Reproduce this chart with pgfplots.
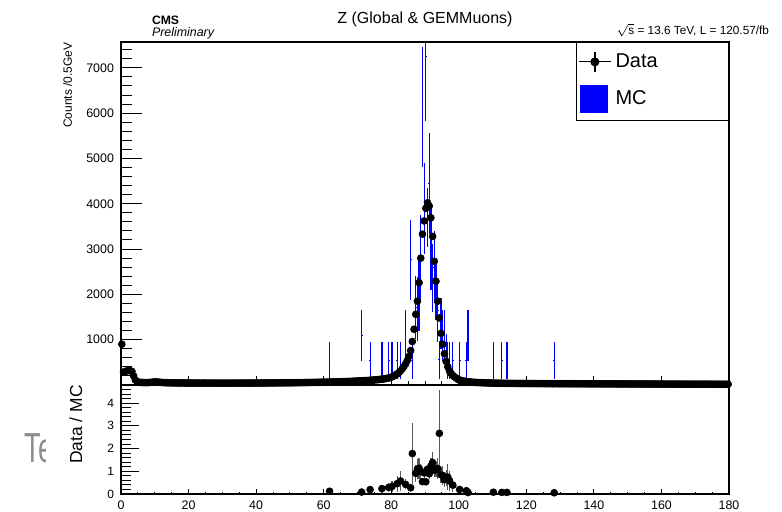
\documentclass[border=0pt]{standalone}
\usepackage{pgfplots}
\usepackage{pgfplotstable}
\pgfplotsset{compat=1.18}
\usepackage{fontspec}
\setmainfont{Liberation Sans}
\newcommand\fs[1]{\fontsize{#1}{#1}\selectfont}

\pgfplotstableread[row sep=\\]{
x y\\
0.25 900\\ 0.75 280\\ 1.25 300\\ 1.75 310\\ 2.25 320\\ 2.75 315\\ 3.25 300\\ 3.75 200\\ 4.25 110\\ 4.75 75\\
5.25 62\\ 5.75 58\\ 6.25 55\\ 6.75 54\\ 7.25 52\\ 7.75 53\\ 8.25 55\\ 8.75 58\\ 9.25 62\\ 9.75 66\\
10.25 68\\ 10.75 66\\ 11.25 62\\ 11.75 58\\ 12.25 55\\ 12.75 52\\ 13.25 50\\ 13.75 49\\ 14.25 48\\ 14.75 47\\
15.25 47\\ 15.75 46\\ 16.25 46\\ 16.75 45\\ 17.25 45\\ 17.75 44\\ 18.25 45\\ 18.75 44\\ 19.25 44\\ 19.75 43\\
20.25 43\\ 20.75 44\\ 21.25 43\\ 21.75 43\\ 22.25 42\\ 22.75 43\\ 23.25 42\\ 23.75 42\\ 24.25 43\\ 24.75 42\\
25.25 42\\ 25.75 41\\ 26.25 42\\ 26.75 42\\ 27.25 41\\ 27.75 42\\ 28.25 41\\ 28.75 41\\ 29.25 42\\ 29.75 41\\
30.25 41\\ 30.75 42\\ 31.25 41\\ 31.75 41\\ 32.25 42\\ 32.75 41\\ 33.25 42\\ 33.75 42\\ 34.25 41\\ 34.75 42\\
35.25 42\\ 35.75 42\\ 36.25 43\\ 36.75 42\\ 37.25 43\\ 37.75 43\\ 38.25 42\\ 38.75 43\\ 39.25 43\\ 39.75 44\\
40.25 44\\ 40.75 43\\ 41.25 44\\ 41.75 44\\ 42.25 45\\ 42.75 44\\ 43.25 45\\ 43.75 45\\ 44.25 46\\ 44.75 45\\
45.25 46\\ 45.75 46\\ 46.25 47\\ 46.75 46\\ 47.25 47\\ 47.75 48\\ 48.25 47\\ 48.75 48\\ 49.25 49\\ 49.75 48\\
50.25 49\\ 50.75 50\\ 51.25 50\\ 51.75 51\\ 52.25 51\\ 52.75 52\\ 53.25 53\\ 53.75 52\\ 54.25 54\\ 54.75 54\\
55.25 55\\ 55.75 56\\ 56.25 56\\ 56.75 57\\ 57.25 58\\ 57.75 59\\ 58.25 59\\ 58.75 60\\ 59.25 61\\ 59.75 62\\
60.25 62\\ 60.75 63\\ 61.25 64\\ 61.75 65\\ 62.25 66\\ 62.75 67\\ 63.25 68\\ 63.75 69\\ 64.25 70\\ 64.75 71\\
65.25 72\\ 65.75 74\\ 66.25 75\\ 66.75 76\\ 67.25 78\\ 67.75 80\\ 68.25 81\\ 68.75 83\\ 69.25 85\\ 69.75 87\\
70.25 89\\ 70.75 91\\ 71.25 93\\ 71.75 95\\ 72.25 97\\ 72.75 99\\ 73.25 101\\ 73.75 104\\ 74.25 107\\ 74.75 110\\
75.25 113\\ 75.75 116\\ 76.25 120\\ 76.75 124\\ 77.25 128\\ 77.75 133\\ 78.25 140\\ 78.75 147\\ 79.25 155\\ 79.75 165\\
80.25 180\\ 80.75 198\\ 81.25 220\\ 81.75 245\\ 82.25 275\\ 82.75 310\\ 83.25 355\\ 83.75 405\\ 84.25 465\\ 84.75 540\\
85.25 630\\ 85.75 760\\ 86.25 960\\ 86.75 1230\\ 87.25 1560\\ 87.75 1850\\ 88.25 2260\\ 88.75 2800\\ 89.25 3330\\ 89.75 3620\\
90.25 3900\\ 90.75 4020\\ 91.25 3950\\ 91.75 3690\\ 92.25 3280\\ 92.75 2730\\ 93.25 2290\\ 93.75 1850\\ 94.25 1480\\ 94.75 1140\\
95.25 900\\ 95.75 690\\ 96.25 520\\ 96.75 400\\ 97.25 310\\ 97.75 255\\ 98.25 210\\ 98.75 180\\ 99.25 150\\ 99.75 125\\
100.25 108\\ 100.75 98\\ 101.25 90\\ 101.75 84\\ 102.25 78\\ 102.75 72\\ 103.25 68\\ 103.75 64\\ 104.25 61\\ 104.75 58\\
105.25 56\\ 105.75 54\\ 106.25 52\\ 106.75 50\\ 107.25 49\\ 107.75 47\\ 108.25 46\\ 108.75 45\\ 109.25 44\\ 109.75 43\\
110.25 42\\ 110.75 41\\ 111.25 40\\ 111.75 40\\ 112.25 39\\ 112.75 38\\ 113.25 38\\ 113.75 37\\ 114.25 37\\ 114.75 36\\
115.25 36\\ 115.75 35\\ 116.25 35\\ 116.75 35\\ 117.25 34\\ 117.75 34\\ 118.25 34\\ 118.75 33\\ 119.25 33\\ 119.75 33\\
120.25 33\\ 120.75 32\\ 121.25 32\\ 121.75 32\\ 122.25 32\\ 122.75 31\\ 123.25 31\\ 123.75 31\\ 124.25 31\\ 124.75 30\\
125.25 30\\ 125.75 30\\ 126.25 30\\ 126.75 30\\ 127.25 29\\ 127.75 29\\ 128.25 29\\ 128.75 29\\ 129.25 29\\ 129.75 28\\
130.25 28\\ 130.75 28\\ 131.25 28\\ 131.75 28\\ 132.25 28\\ 132.75 27\\ 133.25 27\\ 133.75 27\\ 134.25 27\\ 134.75 27\\
135.25 27\\ 135.75 26\\ 136.25 27\\ 136.75 26\\ 137.25 26\\ 137.75 26\\ 138.25 26\\ 138.75 26\\ 139.25 25\\ 139.75 25\\
140.25 25\\ 140.75 25\\ 141.25 25\\ 141.75 25\\ 142.25 25\\ 142.75 24\\ 143.25 25\\ 143.75 24\\ 144.25 24\\ 144.75 24\\
145.25 24\\ 145.75 24\\ 146.25 24\\ 146.75 23\\ 147.25 24\\ 147.75 23\\ 148.25 23\\ 148.75 23\\ 149.25 23\\ 149.75 23\\
150.25 23\\ 150.75 23\\ 151.25 22\\ 151.75 23\\ 152.25 22\\ 152.75 22\\ 153.25 22\\ 153.75 22\\ 154.25 22\\ 154.75 22\\
155.25 22\\ 155.75 21\\ 156.25 22\\ 156.75 21\\ 157.25 21\\ 157.75 21\\ 158.25 21\\ 158.75 21\\ 159.25 21\\ 159.75 20\\
160.25 21\\ 160.75 20\\ 161.25 20\\ 161.75 20\\ 162.25 20\\ 162.75 20\\ 163.25 20\\ 163.75 19\\ 164.25 20\\ 164.75 19\\
165.25 19\\ 165.75 19\\ 166.25 19\\ 166.75 19\\ 167.25 19\\ 167.75 19\\ 168.25 18\\ 168.75 19\\ 169.25 18\\ 169.75 18\\
170.25 18\\ 170.75 18\\ 171.25 18\\ 171.75 18\\ 172.25 18\\ 172.75 17\\ 173.25 18\\ 173.75 17\\ 174.25 17\\ 174.75 17\\
175.25 17\\ 175.75 17\\ 176.25 17\\ 176.75 17\\ 177.25 16\\ 177.75 17\\ 178.25 16\\ 178.75 16\\ 179.25 16\\ 179.75 16\\
}\datatab

\pgfplotstableread[row sep=\\]{
x y ey\\
61.75 540 410\\ 71.25 1100 560\\ 73.75 540 410\\ 77.25 540 410\\ 79.25 540 410\\
80.25 540 410\\ 81.75 540 410\\ 82.75 540 410\\ 84.25 1100 560\\ 85.75 2765 880\\
86.25 540 410\\ 87.25 1714 700\\ 87.75 1680 700\\ 88.25 2000 800\\ 88.75 2800 950\\
89.25 6135 1320\\ 89.75 3900 1000\\ 90.25 7260 1440\\ 90.75 3700 650\\ 91.25 4450 1120\\
91.75 3000 900\\ 92.25 2360 750\\ 92.75 2600 800\\ 93.25 2120 680\\ 93.75 1650 700\\
94.25 555 420\\ 94.75 1350 560\\ 95.25 1100 560\\ 95.75 1100 560\\ 96.25 750 380\\
96.75 540 410\\ 97.25 540 410\\ 98.25 540 410\\ 100.25 540 410\\ 102.25 540 410\\
102.75 1100 560\\ 110.25 540 410\\ 112.75 540 410\\ 114.25 540 410\\ 128.25 540 410\\
}\mctab

\pgfplotstableread[row sep=\\]{
x r er\\
61.75 0.120 0.092\\ 71.25 0.085 0.044\\ 73.75 0.193 0.147\\ 77.25 0.237 0.180\\ 79.25 0.287 0.218\\
80.25 0.333 0.253\\ 81.75 0.454 0.345\\ 82.75 0.574 0.436\\ 84.25 0.423 0.216\\ 85.75 0.275 0.088\\
86.25 1.78 1.35\\ 87.25 0.91 0.37\\ 87.75 1.10 0.46\\ 88.25 1.13 0.45\\ 88.75 1.00 0.34\\
89.25 0.543 0.117\\ 89.75 0.928 0.24\\ 90.25 0.537 0.107\\ 90.75 1.086 0.19\\ 91.25 0.888 0.224\\
91.75 1.23 0.37\\ 92.25 1.39 0.44\\ 92.75 1.05 0.32\\ 93.25 1.08 0.35\\ 93.75 1.12 0.48\\
94.25 2.67 1.9\\ 94.75 0.844 0.35\\ 95.25 0.818 0.42\\ 95.75 0.627 0.32\\ 96.25 0.693 0.35\\
96.75 0.741 0.56\\ 97.25 0.574 0.44\\ 98.25 0.389 0.30\\ 100.25 0.200 0.152\\ 102.25 0.144 0.110\\
102.75 0.065 0.035\\ 110.25 0.078 0.060\\ 112.75 0.070 0.054\\ 114.25 0.069 0.052\\ 128.25 0.054 0.041\\
}\ratiotab

\begin{document}
\begin{tikzpicture}
\path[use as bounding box] (0pt,0pt) rectangle (391pt,256pt);

% ---------- upper panel ----------
\begin{axis}[
  at={(60.5pt,63.5pt)}, anchor=south west,
  width=304pt, height=171.5pt, scale only axis,
  xmin=0, xmax=180, ymin=0, ymax=7570,
  xtick=\empty,
  ytick={0,1000,...,8000},
  yticklabels={,1000,2000,3000,4000,5000,6000,7000,8000},
  minor y tick num=4,
  ytick pos=left,
  tick align=inside,
  major tick length=10.5pt, minor tick length=5.5pt,
  tick style={black, line width=0.5pt},
  axis line style={black, line width=0.6pt},
  scaled y ticks=false,
  /pgf/number format/assume math mode=true,
  yticklabel style={font=\fs{6.2}},
  ylabel={Counts /0.5GeV},
  every axis y label/.style={at={(rel axis cs:-0.0806,1)}, rotate=90, anchor=base east, inner sep=0pt, font=\fs{6}},
  legend style={at={(rel axis cs:1,1)}, anchor=north east, draw=black, line width=0.5pt, fill=white,
    inner xsep=1pt, inner ysep=3.5pt, row sep=5.5pt, font=\fs{10},
    /tikz/every odd column/.style={column sep=0pt}},
  legend cell align=left,
]
\addplot[only marks, mark=-, mark size=0.45pt, blue, forget plot,
  error bars/.cd, y dir=both, y explicit, error mark=none,
  error bar style={blue, line width=0.6pt}]
  table[x=x, y=y, y error=ey] {\mctab};
\addplot[only marks, mark=*, mark size=1.7pt, black, forget plot]
  table[x=x, y=y] {\datatab};
\addlegendimage{black, legend image code/.code={
  \draw[black, line width=0.6pt] (0pt,0pt)--(16pt,0pt);
  \draw[black, line width=0.6pt] (8pt,-5pt)--(8pt,5pt);
  \fill[black] (8pt,0pt) circle (2pt);}}
\addlegendentry{\makebox[53.5pt][l]{Data}}
\addlegendimage{blue, legend image code/.code={
  \fill[blue] (1pt,-6.75pt) rectangle (14.5pt,6.75pt);}}
\addlegendentry{\makebox[53.5pt][l]{MC}}
\end{axis}

% upper x ticks (short)
\begin{axis}[
  at={(60.5pt,63.5pt)}, anchor=south west,
  width=304pt, height=171.5pt, scale only axis,
  xmin=0, xmax=180, ymin=0, ymax=1,
  axis line style={draw=none},
  ytick=\empty,
  xtick={0,20,...,180}, xticklabels=\empty,
  minor x tick num=3,
  xtick pos=bottom, tick align=inside,
  major tick length=4.5pt, minor tick length=2pt,
  tick style={black, line width=0.5pt},
]
\end{axis}

% ---------- lower panel ----------
\begin{axis}[
  at={(60.5pt,9pt)}, anchor=south west,
  width=304pt, height=54.5pt, scale only axis,
  xmin=0, xmax=180, ymin=0, ymax=4.8,
  xtick={0,20,...,180},
  xtick style={draw=none},
  ytick={0,1,...,5},
  minor y tick num=4,
  ytick pos=left,
  tick align=inside,
  major tick length=9pt, minor tick length=5pt,
  tick style={black, line width=0.5pt},
  axis line style={black, line width=0.6pt},
  /pgf/number format/assume math mode=true,
  xticklabel style={font=\fs{6.2}},
  yticklabel style={font=\fs{6}},
  ylabel={Data / MC},
  every axis y label/.style={at={(rel axis cs:-0.0641,1)}, rotate=90, anchor=base east, inner sep=0pt, font=\fs{8.7}},
]
\addplot[only marks, mark=*, mark size=1.7pt, black,
  error bars/.cd, y dir=both, y explicit, error mark=none,
  error bar style={black!65, line width=0.6pt}]
  table[x=x, y=r, y error=er] {\ratiotab};
\end{axis}

% lower x ticks (short)
\begin{axis}[
  at={(60.5pt,9pt)}, anchor=south west,
  width=304pt, height=54.5pt, scale only axis,
  xmin=0, xmax=180, ymin=0, ymax=1,
  axis line style={draw=none},
  ytick=\empty,
  xtick={0,20,...,180}, xticklabels=\empty,
  minor x tick num=3,
  xtick pos=bottom, tick align=inside,
  major tick length=2.3pt, minor tick length=1.2pt,
  tick style={black, line width=0.5pt},
]
\end{axis}

% ---------- texts ----------
\node[font=\fs{8}, anchor=base] at (212.5pt,244pt) {Z (Global \& GEMMuons)};
\node[font=\fs{6.1}\bfseries, anchor=base west, inner sep=0pt] at (75.8pt,243.5pt) {CMS};
\node[font=\fs{6.2}\itshape, anchor=base west, inner sep=0pt] at (75.8pt,237.7pt) {Preliminary};
\node[font=\fs{5.9}, anchor=base east, inner sep=0pt] at (384.7pt,238.8pt) {$\sqrt{\mbox{s}}$ = 13.6 TeV, L = 120.57/fb};
\begin{scope}
\clip (0pt,0pt) rectangle (22.5pt,256pt);
\node[font=\fs{21}, text=black!45, anchor=base west, inner sep=0pt] at (12.3pt,24.5pt) {\scalebox{0.65}[1]{Te}};
\end{scope}
\end{tikzpicture}
\end{document}
